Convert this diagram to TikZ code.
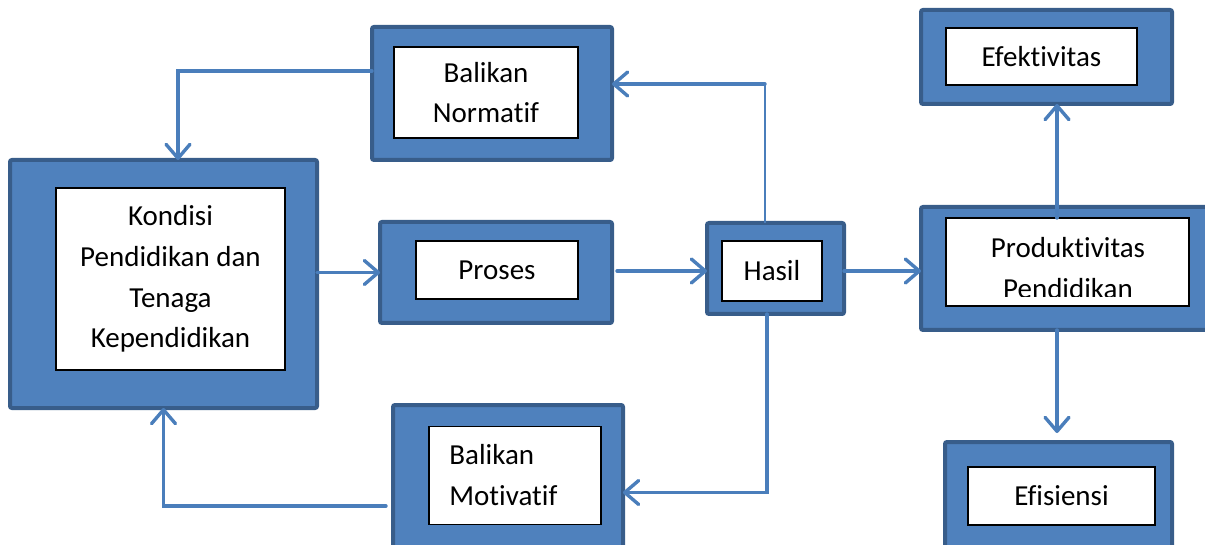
\documentclass[tikz,border=0pt]{standalone}
\usepackage{fontspec}
\setmainfont{Carlito}[Ligatures=NoCommon]
\usepackage{tikz}
\usetikzlibrary{arrows.meta,calc}
\usepackage{xcolor}
\definecolor{kotak}{HTML}{4F81BD}
\definecolor{tepi}{HTML}{385D8A}
\definecolor{panah}{HTML}{4A7EBB}

\begin{document}
\begin{tikzpicture}[x=0.5pt, y=-0.5pt,
    luar/.style={draw=tepi, fill=kotak, line width=2pt, rounded corners=1pt, inner sep=0pt, outer sep=0pt},
    dalam/.style={draw=black, fill=white, line width=0.6pt, inner sep=0pt, outer sep=0pt},
    teks/.style={align=center, inner sep=0pt, font=\fontsize{14.5pt}{20.3pt}\selectfont},
    panahbiru/.style={draw=panah, line width=1.7pt, line cap=round, -{Straight Barb[length=7pt,width=12pt,round]}},
    garistipis/.style={draw=panah, line width=1pt}]
    \useasboundingbox (0,0) rectangle (1205,545);

    % Kotak luar
    \node[luar, minimum width=120pt, minimum height=66.5pt] (normatif) at (492,93.5) {};
    \node[luar, minimum width=153.5pt, minimum height=124pt] (kondisi) at (163.5,284) {};
    \node[luar, minimum width=116pt, minimum height=50.5pt] (proses) at (496,272.5) {};
    \node[luar, minimum width=68.5pt, minimum height=45.5pt] (hasil) at (775.5,268.5) {};
    \node[luar, minimum width=125.5pt, minimum height=47pt] (efektif) at (1046.5,57) {};
    \node[luar, minimum width=147pt, minimum height=61.5pt] (produktif) at (1068,268.5) {};
    \node[luar, minimum width=113.5pt, minimum height=73.5pt] (efisiensi) at (1058.5,515.5) {};
    \node[luar, minimum width=115pt, minimum height=82.5pt] (motivatif) at (508,487.5) {};

    % Kotak dalam dengan teks
    \node[dalam, teks, minimum width=92pt, minimum height=45.5pt] (normatif-in) at (486,92.5) {Balikan\\Normatif};
    \node[dalam, teks, minimum width=114.5pt, minimum height=91pt] (kondisi-in) at (170.5,279) {Kondisi\\Pendidikan dan\\Tenaga\\Kependidikan};
    \node[dalam, teks, minimum width=81pt, minimum height=29pt] (proses-in) at (497,270) {Proses};
    \node[dalam, teks, minimum width=50pt, minimum height=30pt] (hasil-in) at (772,271) {Hasil};
    \node[dalam, teks, minimum width=95.5pt, minimum height=28.5pt] (efektif-in) at (1041.5,56.5) {Efektivitas};
    \node[dalam, minimum width=121.5pt, minimum height=44pt] (produktif-in) at (1067.5,262) {};
    \node[dalam, teks, minimum width=93.5pt, minimum height=29pt] (efisiensi-in) at (1061.5,496) {Efisiensi};
    \node[dalam, minimum width=86pt, minimum height=49pt] (motivatif-in) at (515,475.5) {};

    % Teks yang terpotong dan teks rata kiri
    \begin{scope}
        \clip (produktif-in.north west) rectangle ($(produktif-in.south east)+(0,-9)$);
        \node[teks] (produktif-txt) at (1068,268) {Produktivitas\\Pendidikan};
    \end{scope}
    \node[teks, align=left, anchor=west] (motivatif-txt) at (449,475) {Balikan\\Motivatif};

    % Titik bantu
    \coordinate (normatif-masuk) at ($(normatif.east)+(0,-9.5)$);
    \coordinate (hasil-atas) at ($(hasil.north)+(-10.5,0)$);
    \coordinate (belok) at (hasil-atas |- normatif-masuk);
    \coordinate (proses-keluar) at ($(proses.east)+(5,-1.5)$);
    \coordinate (hasil-keluar) at ($(hasil.east)+(0,2.5)$);
    \coordinate (hasil-bawah) at ($(hasil.south)+(-8.5,0)$);
    \coordinate (motivatif-masuk) at ($(motivatif.east)+(0,5)$);
    \coordinate (motivatif-keluar) at ($(motivatif.west)+(-7,18.5)$);
    \coordinate (produktif-atas) at ($(produktif-in.north)+(-10.5,0)$);
    \coordinate (produktif-bawah) at ($(produktif.south)+(-11,0)$);

    % Panah
    \draw[panahbiru] ($(normatif.west)+(0,-22.5)$) -| ($(kondisi.north)+(14.5,0)$);
    \draw[garistipis] (hasil-atas) -- (belok);
    \draw[panahbiru] (belok) -- (normatif-masuk);
    \draw[panahbiru] (kondisi.east |- proses.west) -- (proses.west);
    \draw[panahbiru] (proses-keluar) -- (proses-keluar -| hasil.west);
    \draw[panahbiru] (hasil-keluar) -- (hasil-keluar -| produktif.west);
    \draw[panahbiru] (hasil-bawah) |- (motivatif-masuk);
    \draw[panahbiru] (motivatif-keluar) -| ($(kondisi.south)+(0,0)$);
    \draw[panahbiru] (produktif-atas) -- (produktif-atas |- efektif.south);
    \draw[panahbiru, shorten >=4.5pt] (produktif-bawah) -- (produktif-bawah |- efisiensi.north);
\end{tikzpicture}
\end{document}
